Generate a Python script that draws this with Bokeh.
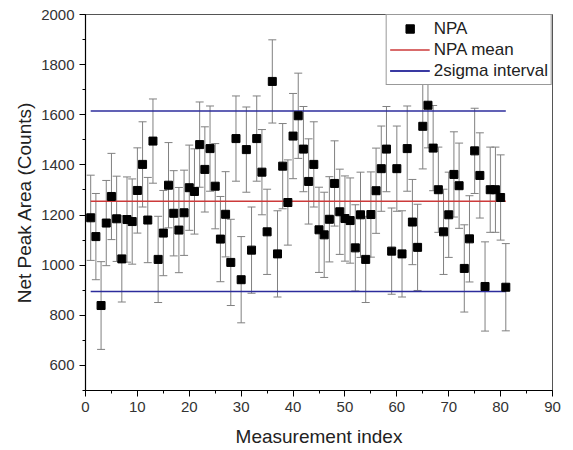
from bokeh.plotting import figure
from bokeh.models import (Range1d, FixedTicker, Whisker, ColumnDataSource,
                          Legend, LegendItem, TeeHead)
from bokeh.embed import file_html
from bokeh.resources import INLINE

# ---------------- data ----------------
idx = list(range(1, 82))
npa = [1189, 1114, 839, 1168, 1274, 1185, 1025, 1182, 1174, 1298,
       1402, 1180, 1495, 1023, 1128, 1319, 1207, 1140, 1209, 1309,
       1294, 1481, 1382, 1465, 1315, 1104, 1203, 1011, 1505, 942,
       1461, 1060, 1505, 1371, 1133, 1733, 1045, 1395, 1250, 1515,
       1596, 1463, 1334, 1402, 1141, 1121, 1183, 1326, 1213, 1186,
       1178, 1069, 1201, 1023, 1202, 1297, 1385, 1463, 1056, 1385,
       1045, 1465, 1172, 1071, 1554, 1638, 1467, 1301, 1133, 1201,
       1362, 1317, 987, 1105, 1456, 1358, 915, 1301, 1301, 1270, 912]
err = [170, 172, 175, 170, 172, 170, 172, 170, 170, 170,
       170, 170, 168, 172, 170, 170, 170, 170, 170, 170,
       170, 170, 170, 170, 170, 170, 170, 172, 170, 172,
       170, 172, 170, 170, 170, 166, 172, 170, 170, 170,
       170, 170, 170, 170, 170, 170, 170, 170, 170, 170,
       170, 172, 170, 172, 170, 170, 170, 170, 172, 170,
       172, 170, 170, 172, 170, 170, 170, 170, 170, 170,
       170, 170, 174, 172, 170, 170, 178, 170, 170, 170, 174]
npa_mean = 1255
sigma_low = 895
sigma_high = 1615
line_x = [1, 81]

x_ticks = [0, 10, 20, 30, 40, 50, 60, 70, 80, 90]
x_minor = [v for v in range(0, 91, 5)]
y_ticks = [600, 800, 1000, 1200, 1400, 1600, 1800, 2000]
y_minor = [v for v in range(500, 2001, 100)]

FONT = "Liberation Sans"
GRAY = "#808080"

src = ColumnDataSource(dict(
    x=idx, y=npa,
    upper=[v + e for v, e in zip(npa, err)],
    lower=[v - e for v, e in zip(npa, err)],
))

p = figure(width=573, height=450, output_backend="svg", toolbar_location=None,
           x_range=Range1d(0, 90), y_range=Range1d(500, 2000),
           min_border_left=85, min_border_right=21, min_border_top=14,
           min_border_bottom=60, background_fill_color="white",
           border_fill_color="white")

p.xgrid.grid_line_color = None
p.ygrid.grid_line_color = None
p.outline_line_color = "#555555"
p.outline_line_width = 1

wh = Whisker(base="x", upper="upper", lower="lower", source=src,
             line_color=GRAY, line_width=1,
             upper_head=TeeHead(size=8, line_color=GRAY, line_width=1),
             lower_head=TeeHead(size=8, line_color=GRAY, line_width=1),
             level="underlay")
p.add_layout(wh)

r_mean = p.line(line_x, [npa_mean, npa_mean], line_color="#cc3a3a", line_width=1.5)
r_hi = p.line(line_x, [sigma_high, sigma_high], line_color="#2c2c9c", line_width=1.5)
r_lo = p.line(line_x, [sigma_low, sigma_low], line_color="#2c2c9c", line_width=1.5)
r_pts = p.scatter("x", "y", source=src, marker="square", size=8,
                  fill_color="black", line_color="black")

legend = Legend(items=[
    LegendItem(label="NPA", renderers=[r_pts]),
    LegendItem(label="NPA mean", renderers=[r_mean]),
    LegendItem(label="2sigma interval", renderers=[r_hi, r_lo]),
], location="top_right")
legend.margin = 0
legend.padding = 3
legend.spacing = 0
legend.glyph_width = 40
legend.glyph_height = 21
legend.label_height = 21
legend.label_standoff = 4
legend.label_text_font = FONT
legend.label_text_font_size = "17px"
legend.label_text_color = "#222222"
legend.border_line_color = "#333333"
legend.border_line_width = 1
legend.background_fill_alpha = 1
p.add_layout(legend)

for ax in (p.xaxis[0], p.yaxis[0]):
    ax.axis_line_color = "black"
    ax.axis_line_width = 1.2
    ax.major_tick_line_color = "black"
    ax.minor_tick_line_color = "black"
    ax.major_tick_out = 6
    ax.major_tick_in = 0
    ax.minor_tick_out = 3
    ax.minor_tick_in = 0
    ax.major_label_text_font = FONT
    ax.major_label_text_font_size = "15px"
    ax.major_label_text_color = "#333333"
    ax.axis_label_text_font = FONT
    ax.axis_label_text_font_size = "19px"
    ax.axis_label_text_font_style = "normal"
    ax.axis_label_text_color = "#222222"

p.xaxis.ticker = FixedTicker(ticks=x_ticks, minor_ticks=x_minor)
p.yaxis.ticker = FixedTicker(ticks=y_ticks, minor_ticks=y_minor)
p.xaxis.axis_label = "Measurement index"
p.yaxis.axis_label = "Net Peak Area (Counts)"
p.xaxis.major_label_standoff = 5
p.yaxis.major_label_standoff = 5
p.xaxis.axis_label_standoff = 11
p.yaxis.axis_label_standoff = 3

open("out.html", "w").write(file_html(p, INLINE))
